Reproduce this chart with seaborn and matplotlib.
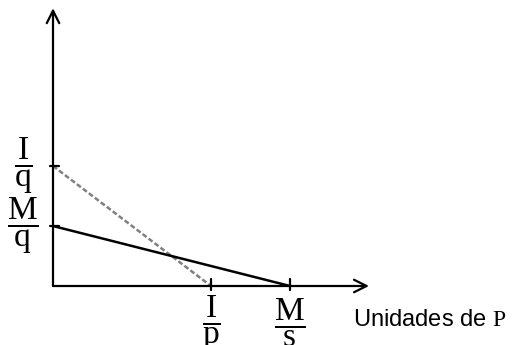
import matplotlib
matplotlib.use("Agg")
import matplotlib.pyplot as plt
import seaborn as sns

# valores del gráfico (unidades arbitrarias)
I_q = 2.0   # intercepto vertical de la recta punteada
M_q = 1.0   # intercepto vertical de la recta sólida
I_p = 2.0   # intercepto horizontal de la recta punteada
M_s = 3.0   # intercepto horizontal de la recta sólida

x_max = 4.0
y_max = 4.63

line_solid_x = [0, M_s]
line_solid_y = [M_q, 0]
line_dash_x = [0, I_p]
line_dash_y = [I_q, 0]

xtick_vals = [I_p, M_s]
xtick_labels = [r"$\dfrac{\mathrm{I}}{\mathrm{p}}$", r"$\dfrac{\mathrm{M}}{\mathrm{s}}$"]
ytick_vals = [I_q, M_q]
ytick_labels = [r"$\dfrac{\mathrm{I}}{\mathrm{q}}$", r"$\dfrac{\mathrm{M}}{\mathrm{q}}$"]

sns.set_style("white")
plt.rcParams["font.family"] = ["Liberation Sans", "DejaVu Sans"]
plt.rcParams["mathtext.fontset"] = "custom"
plt.rcParams["mathtext.rm"] = "Liberation Serif"
plt.rcParams["mathtext.it"] = "Liberation Serif:italic"
plt.rcParams["text.color"] = "black"

fig = plt.figure(figsize=(5.19, 3.45), dpi=100)
ax = fig.add_axes([0, 0, 1, 1])
ax.set_xlim(-53 / 79, (519 - 53) / 79)
ax.set_ylim(-(345 - 286) / 60, 286 / 60)
for s in ax.spines.values():
    s.set_visible(False)

sns.lineplot(x=line_dash_x, y=line_dash_y, ax=ax, color="#808080", lw=1.8,
             linestyle=(0, (2, 1)), estimator=None, sort=False)
sns.lineplot(x=line_solid_x, y=line_solid_y, ax=ax, color="black", lw=1.8,
             estimator=None, sort=False)

# ejes con flechas
arrow = dict(arrowstyle="->,head_length=0.9,head_width=0.45", lw=1.6, color="black",
             shrinkA=0, shrinkB=0)
ax.annotate("", xy=(x_max, 0), xytext=(0, 0), arrowprops=arrow)
ax.annotate("", xy=(0, y_max), xytext=(0, 0), arrowprops=arrow)

# marcas
for v in xtick_vals:
    ax.plot([v, v], [-0.07, 0.11], color="black", lw=1.6)
for v in ytick_vals:
    ax.plot([-0.04, 0.07], [v, v], color="black", lw=1.6)

for v, lab in zip(xtick_vals, xtick_labels):
    ax.text(v, -0.62, lab, ha="center", va="center", fontsize=24, color="black")
for v, lab in zip(ytick_vals, ytick_labels):
    ax.text(-0.38, v, lab, ha="center", va="center", fontsize=24, color="black")

ax.text(x_max - 0.2, -0.56, r"Unidades de $\mathrm{P}$", ha="left", va="center",
        fontsize=17, color="black")

ax.set_xticks([])
ax.set_yticks([])
fig.savefig("out.png", dpi=100)
